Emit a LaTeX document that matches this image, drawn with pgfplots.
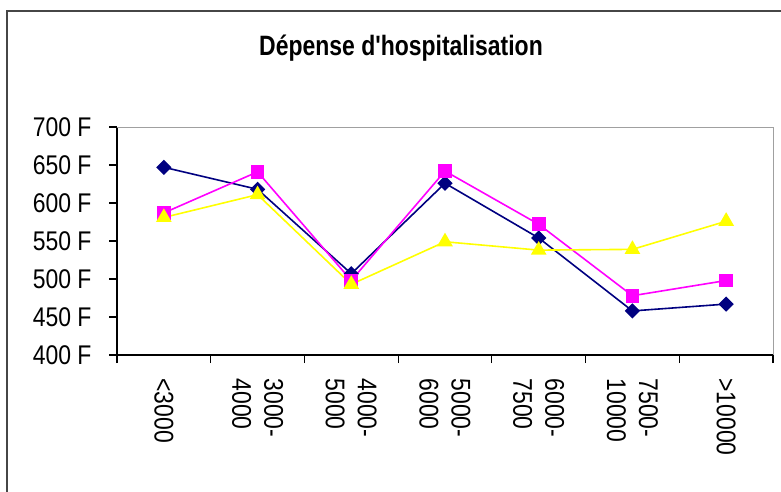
\documentclass[border=0pt]{standalone}
\usepackage{fontspec}
\setmainfont{Liberation Sans}
\newfontfamily\tickfont[FakeStretch=0.85]{Liberation Sans}
\newfontfamily\titlefont[FakeStretch=0.82]{Liberation Sans}
\usepackage{pgfplots}
\pgfplotsset{compat=1.18}

\definecolor{navyline}{RGB}{0,0,128}
\definecolor{pinkline}{RGB}{255,0,255}
\definecolor{yellowline}{RGB}{255,255,0}
\definecolor{plotframe}{RGB}{160,160,160}
\definecolor{chartframe}{RGB}{70,70,70}

% Hospital spending by income bracket, three series
\pgfplotstableread{
idx navy pink yellow
0   647  587  581
1   618  641  611
2   507  498  493
3   626  642  549
4   554  572  538
5   458  478  539
6   467  498  576
}\depense

\begin{document}
\begin{tikzpicture}
% chart frame
\draw[chartframe, line width=1.5pt] (7pt,-20pt) -- (7pt,480pt) -- (800pt,480pt);
% title
\node[anchor=base, font=\titlefont\bfseries\fontsize{28}{32}\selectfont]
  at (401pt,435pt) {Dépense d'hospitalisation};
\begin{axis}[
  at={(117pt,136pt)}, anchor=south west,
  scale only axis, width=656pt, height=228pt,
  xmin=-0.5, xmax=6.5, ymin=400, ymax=700,
  axis lines*=left,
  axis line style={black, line width=1.2pt},
  tick align=outside,
  tick style={black, line width=1.2pt},
  xtick={0,...,6},
  xticklabels={{<3000},{3000-\\4000},{4000-\\5000},{5000-\\6000},{6000-\\7500},{7500-\\10000},{>10000}},
  major x tick style={draw=none},
  minor xtick={-0.5,0.5,...,6.5},
  minor tick length=8pt,
  major tick length=8pt,
  ytick={400,450,...,700},
  yticklabels={400 F,450 F,500 F,550 F,600 F,650 F,700 F},
  % rotated labels: xshift moves them downwards
  x tick label style={rotate=-90, anchor=west, align=left,
    font=\tickfont\fontsize{27}{32}\selectfont, xshift=12pt},
  y tick label style={font=\tickfont\fontsize{27}{32}\selectfont, xshift=-14pt},
  clip=false,
]
\draw[plotframe, line width=1pt] (rel axis cs:0,1) -- (rel axis cs:1,1) -- (rel axis cs:1,0);
\addplot[navyline, line width=1.6pt, mark=square*, mark size=4.6pt,
  mark options={fill=navyline, draw=navyline, rotate=45}] table[x=idx, y=navy] {\depense};
\addplot[pinkline, line width=1.6pt, mark=square*, mark size=6pt,
  mark options={fill=pinkline, draw=pinkline}] table[x=idx, y=pink] {\depense};
\addplot[yellowline, line width=1.6pt, mark=triangle*, mark size=7.5pt,
  mark options={fill=yellowline, draw=yellowline}] table[x=idx, y=yellow] {\depense};
\end{axis}
\pgfresetboundingbox
\useasboundingbox (0,0) rectangle (781pt,491pt);
\end{tikzpicture}
\end{document}
